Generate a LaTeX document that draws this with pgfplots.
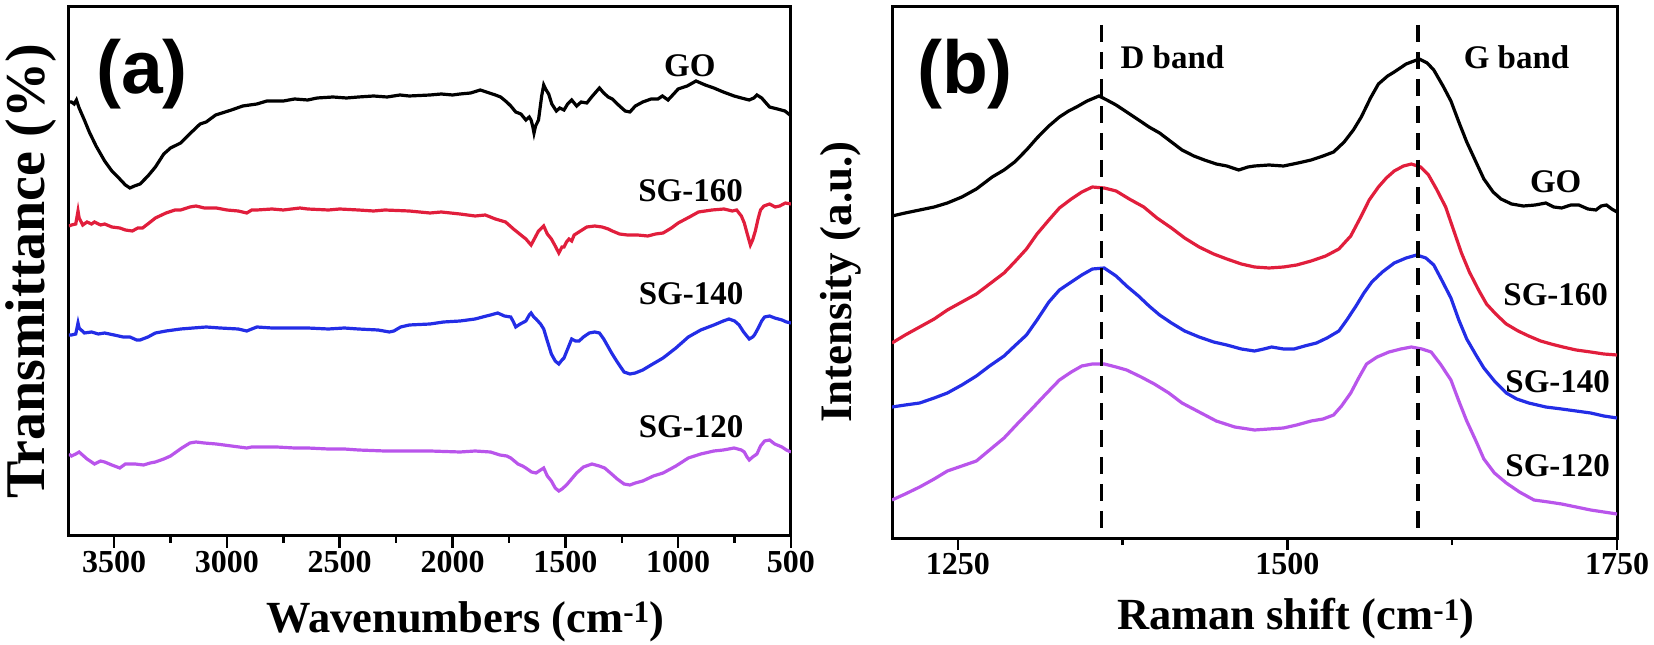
\documentclass[border=0pt]{standalone}
\usepackage{fontspec}
\setmainfont{Liberation Serif}
\newfontfamily\sansb{Liberation Sans}
\usepackage{pgfplots}
\pgfplotsset{compat=1.18}
\definecolor{cred}{RGB}{225,30,60}
\definecolor{cblue}{RGB}{35,45,230}
\definecolor{cviol}{RGB}{185,85,235}
\pgfplotsset{
 panel/.style={
   scale only axis, anchor=south west,
   axis line style={line width=3pt},
   tick style={line width=2.5pt, black},
   major tick length=12pt, minor tick length=7pt,
   tick align=outside, xtick pos=bottom, ytick=\empty,
   minor x tick num=1,
   /pgf/number format/assume math mode=true,
   /pgf/number format/1000 sep={},
   xticklabel style={font=\fontsize{32}{36}\selectfont\bfseries},
   every axis plot/.append style={line width=3.2pt},
 },
}
\tikzset{clab/.style={font=\fontsize{33}{36}\selectfont\bfseries, anchor=center}}
\begin{document}
\begin{tikzpicture}
\path[use as bounding box] (0,0) rectangle (1654pt,645pt);
% ---------------- panel (a)
\begin{axis}[panel, at={(69pt,109pt)}, width=722pt, height=529pt,
  xmin=500, xmax=3700, ymin=0, ymax=529, x dir=reverse,
  xtick={500,1000,...,3500},
  xlabel={Wavenumbers (cm\textsuperscript{-1})},
  xlabel style={at={(axis description cs:0.549,-0.1815)}, anchor=base, font=\fontsize{44.5}{48}\selectfont\bfseries},
  ylabel={Transmittance (\%)},
  ylabel style={at={(axis description cs:-0.0346,0.5)}, anchor=base, font=\fontsize{56}{60}\selectfont\bfseries},
]
\addplot[black] coordinates {(3700,434) (3689,434) (3677,432) (3667,436) (3655,428) (3630,415) (3610,404) (3580,390) (3542,375) (3510,365) (3475,357) (3450,351) (3430,348) (3410,350) (3385,352) (3350,360) (3317,369) (3280,382) (3250,388) (3205,393) (3170,401) (3119,412) (3092,414) (3050,421) (2980,426) (2930,430) (2867,432) (2823,435) (2750,435) (2700,437) (2642,436) (2600,438) (2530,439) (2470,438) (2417,439) (2350,440) (2290,439) (2233,441) (2192,440) (2100,441) (2050,442) (2000,441) (1967,442) (1920,443) (1877,446) (1850,444) (1810,441) (1787,439) (1760,434) (1742,430) (1720,424) (1697,422) (1675,416) (1660,419) (1652,416) (1645,410) (1639,403) (1632,410) (1619,416) (1605,440) (1596,451) (1585,446) (1574,442) (1560,432) (1540,425) (1525,428) (1506,426) (1490,432) (1472,436) (1450,430) (1430,434) (1405,433) (1380,440) (1349,448) (1330,443) (1310,439) (1292,437) (1260,430) (1235,425) (1214,424) (1190,430) (1157,434) (1120,437) (1090,437) (1070,440) (1045,436) (1020,442) (1000,447) (960,450) (921,455) (880,451) (842,448) (800,444) (752,440) (720,438) (685,436) (665,438) (651,441) (630,438) (595,429) (560,427) (527,425) (510,422) (500,420)};
\addplot[cred] coordinates {(3700,310) (3689,311) (3670,312) (3660,325) (3655,318) (3639,311) (3620,314) (3600,312) (3587,314) (3560,311) (3542,312) (3510,309) (3475,308) (3450,306) (3419,305) (3395,308) (3374,308) (3345,313) (3317,318) (3270,323) (3230,326) (3205,326) (3164,329) (3137,330) (3100,328) (3047,328) (3000,326) (2950,325) (2912,323) (2890,326) (2867,326) (2800,327) (2750,326) (2676,328) (2642,327) (2550,326) (2500,327) (2417,326) (2350,325) (2300,326) (2192,325) (2100,323) (2050,324) (1967,322) (1900,320) (1855,321) (1810,317) (1765,314) (1730,307) (1697,301) (1675,297) (1652,291) (1640,296) (1619,305) (1596,310) (1580,302) (1562,297) (1545,290) (1529,283) (1515,289) (1506,289) (1495,294) (1484,297) (1472,295) (1461,301) (1440,304) (1405,309) (1370,310) (1337,309) (1310,307) (1292,305) (1260,302) (1225,301) (1180,301) (1135,300) (1100,302) (1067,303) (1030,308) (1000,313) (950,319) (910,324) (850,326) (797,327) (760,325) (741,326) (720,320) (707,313) (695,303) (680,291) (670,296) (658,305) (645,318) (635,326) (620,330) (595,332) (570,329) (550,330) (525,333) (500,332)};
\addplot[cblue] coordinates {(3700,201) (3689,201) (3670,202) (3660,213) (3655,208) (3632,203) (3600,204) (3570,202) (3542,203) (3500,201) (3460,199) (3430,199) (3400,196) (3385,196) (3350,199) (3317,203) (3270,205) (3205,207) (3150,208) (3092,209) (3030,208) (2950,207) (2912,205) (2890,207) (2867,209) (2800,208) (2700,208) (2642,208) (2550,207) (2480,208) (2417,207) (2330,206) (2280,204) (2260,205) (2230,209) (2192,211) (2100,212) (2040,214) (1967,215) (1900,217) (1850,220) (1832,221) (1800,223) (1770,220) (1742,219) (1730,214) (1720,209) (1700,212) (1675,215) (1660,221) (1652,223) (1640,219) (1630,217) (1610,212) (1596,207) (1580,195) (1562,182) (1545,175) (1529,172) (1515,176) (1506,178) (1490,187) (1472,197) (1455,195) (1439,195) (1420,199) (1394,203) (1370,204) (1349,203) (1330,197) (1315,191) (1295,183) (1270,174) (1240,164) (1214,162) (1190,163) (1157,166) (1120,171) (1067,178) (1010,188) (955,199) (900,206) (842,211) (800,215) (775,217) (750,215) (730,211) (710,204) (685,197) (670,199) (662,201) (645,208) (630,215) (617,219) (595,220) (572,218) (540,216) (520,214) (500,213)};
\addplot[cviol] coordinates {(3700,82) (3689,80) (3670,82) (3655,84) (3620,77) (3587,72) (3560,75) (3542,74) (3510,71) (3475,68) (3450,72) (3407,72) (3370,71) (3340,73) (3317,74) (3280,77) (3250,80) (3200,88) (3164,93) (3137,94) (3100,93) (3047,92) (2980,90) (2912,88) (2890,89) (2867,89) (2780,89) (2700,88) (2642,88) (2550,87) (2480,87) (2417,86) (2300,85) (2192,85) (2100,85) (1967,84) (1900,85) (1832,84) (1790,81) (1760,80) (1742,78) (1710,72) (1690,70) (1675,68) (1650,64) (1630,63) (1610,66) (1596,68) (1580,60) (1562,55) (1545,48) (1529,45) (1515,47) (1495,51) (1480,55) (1450,63) (1420,69) (1382,72) (1350,70) (1326,68) (1300,63) (1270,57) (1240,52) (1214,51) (1190,53) (1157,55) (1110,60) (1067,63) (1010,70) (955,78) (900,82) (842,85) (800,86) (752,88) (720,86) (707,84) (695,79) (685,76) (670,79) (651,82) (635,90) (617,95) (595,96) (572,92) (540,89) (520,86) (500,84)};
\node[font=\sansb\bfseries\fontsize{75}{80}\selectfont] at (rel axis cs:0.101,0.873) {(a)};
\node[clab] at (axis cs:948,470) {GO};
\node[clab] at (axis cs:945,345) {SG-160};
\node[clab] at (axis cs:943,242) {SG-140};
\node[clab] at (axis cs:943,109) {SG-120};
\end{axis}
% ---------------- panel (b)
\begin{axis}[panel, at={(892pt,107pt)}, width=725pt, height=531pt,
  xmin=1200, xmax=1750, ymin=0, ymax=531,
  xtick={1250,1500,1750},
  xlabel={Raman shift (cm\textsuperscript{-1})},
  xlabel style={at={(axis description cs:0.557,-0.173)}, anchor=base, font=\fontsize{44.5}{48}\selectfont\bfseries},
  ylabel={Intensity (a.u.)},
  ylabel style={at={(axis description cs:-0.0552,0.482)}, anchor=base, font=\fontsize{45}{50}\selectfont\bfseries},
]
\addplot[black] coordinates {(1200,322) (1210,325) (1221,328) (1232,331) (1242,335) (1253,341) (1264,349) (1276,361) (1285,368) (1293,376) (1302,388) (1310,400) (1319,412) (1327,421) (1334,427) (1340,431) (1348,437) (1357,442) (1363,438) (1370,433) (1378,426) (1386,419) (1395,411) (1403,405) (1412,396) (1420,388) (1429,382) (1437,378) (1446,374) (1454,372) (1463,368) (1470,371) (1475,372) (1486,373) (1497,372) (1508,375) (1518,378) (1527,382) (1535,386) (1543,396) (1550,408) (1556,421) (1563,440) (1569,454) (1576,462) (1581,466) (1590,474) (1600,479) (1606,475) (1611,468) (1618,452) (1624,437) (1630,416) (1636,396) (1643,376) (1649,359) (1656,346) (1662,339) (1670,334) (1679,332) (1688,333) (1696,335) (1702,331) (1708,330) (1715,333) (1721,333) (1728,329) (1734,328) (1738,332) (1742,333) (1746,329) (1750,326)};
\addplot[cred] coordinates {(1200,195) (1210,203) (1221,211) (1232,219) (1242,228) (1253,236) (1264,244) (1274,254) (1285,265) (1293,276) (1302,289) (1310,304) (1319,318) (1327,330) (1336,339) (1344,346) (1352,351) (1361,350) (1370,347) (1380,339) (1391,331) (1401,320) (1412,310) (1422,300) (1433,291) (1444,284) (1454,279) (1465,274) (1475,271) (1486,270) (1497,271) (1507,273) (1518,277) (1529,282) (1539,289) (1548,302) (1556,322) (1562,338) (1569,351) (1575,360) (1581,367) (1588,372) (1594,374) (1601,371) (1607,363) (1613,349) (1620,331) (1626,308) (1632,285) (1638,266) (1645,248) (1651,234) (1658,224) (1666,214) (1675,207) (1683,202) (1692,197) (1700,194) (1709,191) (1719,188) (1730,186) (1740,184) (1750,183)};
\addplot[cblue] coordinates {(1200,131) (1210,133) (1221,135) (1232,140) (1242,145) (1253,153) (1264,162) (1274,172) (1285,182) (1293,192) (1302,203) (1310,218) (1319,236) (1327,248) (1336,256) (1344,263) (1352,269) (1361,270) (1370,262) (1378,252) (1387,242) (1395,232) (1403,223) (1412,215) (1422,207) (1433,201) (1444,196) (1454,193) (1465,189) (1475,187) (1482,189) (1488,191) (1497,189) (1505,189) (1513,192) (1522,195) (1530,200) (1539,207) (1545,218) (1552,232) (1558,245) (1564,256) (1572,266) (1581,275) (1590,280) (1598,283) (1605,280) (1611,273) (1617,258) (1624,240) (1630,218) (1636,199) (1643,183) (1649,170) (1657,157) (1666,145) (1674,139) (1683,135) (1696,131) (1708,129) (1719,127) (1730,125) (1740,122) (1750,120)};
\addplot[cviol] coordinates {(1200,38) (1210,44) (1221,51) (1232,59) (1242,67) (1253,72) (1264,77) (1274,88) (1285,100) (1295,114) (1306,129) (1316,143) (1327,158) (1336,166) (1344,172) (1352,174) (1361,174) (1370,171) (1378,168) (1389,161) (1399,154) (1410,145) (1420,135) (1433,126) (1446,117) (1460,111) (1475,108) (1486,109) (1497,110) (1507,113) (1518,117) (1527,119) (1535,123) (1541,132) (1548,145) (1554,160) (1560,174) (1568,181) (1577,186) (1586,189) (1594,191) (1602,189) (1609,186) (1616,174) (1624,158) (1630,137) (1636,117) (1643,97) (1649,79) (1657,65) (1666,55) (1676,46) (1687,38) (1698,36) (1708,34) (1719,31) (1730,28) (1740,26) (1750,24)};
\addplot[black, dash pattern=on 17pt off 10pt] coordinates {(1359,513) (1359,0)};
\addplot[black, dash pattern=on 17pt off 10pt] coordinates {(1599,513) (1599,0)};
\node[font=\sansb\bfseries\fontsize{75}{80}\selectfont] at (rel axis cs:0.1007,0.874) {(b)};
\node[clab] at (axis cs:1412.8,480.5) {D band};
\node[clab] at (axis cs:1673.8,480.5) {G band};
\node[clab] at (axis cs:1703.5,356) {GO};
\node[clab] at (axis cs:1703.5,243) {SG-160};
\node[clab] at (axis cs:1705,156.5) {SG-140};
\node[clab] at (axis cs:1705,72) {SG-120};
\end{axis}
\end{tikzpicture}
\end{document}
